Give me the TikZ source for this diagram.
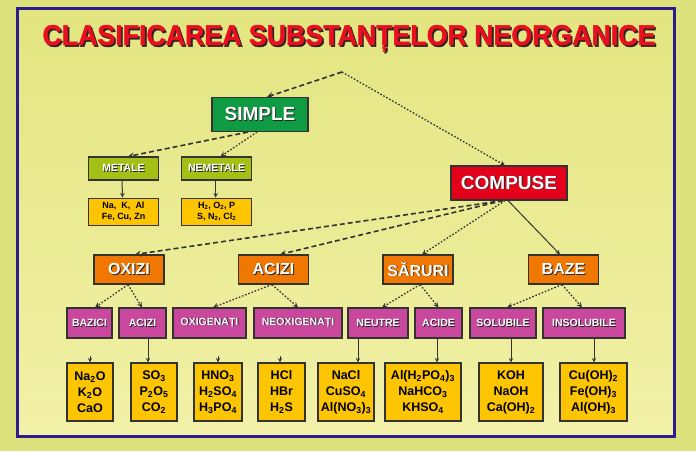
\documentclass[tikz,border=0pt]{standalone}
\usepackage{fontspec}
\usepackage{graphicx}
\usepackage{xcolor}
\setmainfont{Liberation Sans}
\newfontfamily\heavyfont[FakeBold=1.6]{Liberation Sans Bold}
\usetikzlibrary{positioning}

\definecolor{bgouter}{HTML}{DEE27C}
\definecolor{bgtop}{HTML}{E3E580}
\definecolor{bgbottom}{HTML}{F2F1A8}
\definecolor{framecol}{HTML}{2E1C8E}
\definecolor{titlered}{HTML}{E8101E}
\definecolor{titleshade}{HTML}{2E2222}
\definecolor{simplegreen}{HTML}{0E9B44}
\definecolor{olivegreen}{HTML}{A5C014}
\definecolor{exyellow}{HTML}{FCC500}
\definecolor{compred}{HTML}{E2001A}
\definecolor{classorange}{HTML}{F07800}
\definecolor{submagenta}{HTML}{C9489E}
\definecolor{linegray}{HTML}{333333}

\newcommand{\shtxt}[1]{\makebox[0pt][l]{\hspace{0.9pt}\raisebox{-0.9pt}{\textcolor{black!85}{#1}}}#1}
\newcommand{\titletxt}[1]{\makebox[0pt][l]{\hspace{0.6pt}\raisebox{-0.6pt}{\textcolor{titleshade}{#1}}}\textcolor{titlered}{#1}}

\tikzset{
  box/.style={draw=black!80, line width=1.1pt, inner sep=0pt, align=center},
  simple_box/.style={box, fill=simplegreen, text=white, minimum width=96pt, minimum height=34pt, font=\fontsize{19}{19}\selectfont\bfseries},
  compuse_box/.style={box, fill=compred, text=white, minimum width=116pt, minimum height=34pt, font=\fontsize{19}{19}\selectfont\bfseries},
  elem_box/.style={box, fill=olivegreen, text=white, minimum width=70pt, minimum height=23pt, font=\fontsize{10.5}{10.5}\selectfont\bfseries},
  elemex_box/.style={box, fill=exyellow, minimum width=70pt, minimum height=27pt, font=\fontsize{9}{10.5}\selectfont\bfseries},
  class_box/.style={box, fill=classorange, text=white, minimum width=70pt, minimum height=29pt, font=\fontsize{16}{16}\selectfont\bfseries},
  sub_box/.style={box, fill=submagenta, text=white, minimum height=30pt, font=\fontsize{10.5}{10.5}\selectfont\bfseries},
  ex_box/.style={box, fill=exyellow, minimum height=58pt, font=\fontsize{12.5}{16}\selectfont\bfseries},
  dash_line/.style={draw=linegray, line width=1.6pt, dash pattern=on 5pt off 3pt, ->, >=stealth},
  dot_line/.style={draw=linegray, line width=1.3pt, dash pattern=on 1.6pt off 1.8pt, ->, >=stealth},
  solid_line/.style={draw=linegray, line width=1pt, ->, >=stealth}
}

\begin{document}
\begin{tikzpicture}[x=1pt, y=-1pt]
            \useasboundingbox (0,0) rectangle (696,451);
            \fill[bgouter] (0,0) rectangle (696,451);
            \shade[top color=bgtop, bottom color=bgbottom] (17.5,8.5) rectangle (674,436);
            \draw[framecol, line width=3pt] (17.5,8.5) rectangle (674,436);

            % Title
            \node[inner sep=0pt, anchor=base, font=\fontsize{10}{10}\heavyfont] (title) at (349,45)
                {\resizebox{613pt}{20pt}{\titletxt{CLASIFICAREA SUBSTANȚELOR NEORGANICE}}};

            % Nodes
            \coordinate (apex) at (342,72);
            \node[simple_box] (simple) at (260,114.5) {\shtxt{SIMPLE}};
            \node[compuse_box] (compuse) at (509,183) {\shtxt{COMPUSE}};
            \node[elem_box] (metale) at (123.5,168.5) {\shtxt{METALE}};
            \node[elem_box, right=22pt of metale] (nemetale) {\shtxt{NEMETALE}};
            \node[elemex_box, below=17pt of metale] (ex_metale) {Na,\ \ K,\ \ Al\\Fe,\ Cu,\ Zn};
            \node[elemex_box, below=17pt of nemetale] (ex_nemetale) {H\textsubscript{2}, O\textsubscript{2}, P\\S, N\textsubscript{2}, Cl\textsubscript{2}};

            \node[class_box] (oxizi) at (129,269.5) {\shtxt{OXIZI}};
            \node[class_box] (acizi) at (273.5,269.5) {\shtxt{ACIZI}};
            \node[class_box] (saruri) at (418,269.5) {\shtxt{SĂRURI}};
            \node[class_box] (baze) at (563.5,269.5) {\shtxt{BAZE}};

            \node[sub_box, minimum width=45pt] (bazici) at (89.5,323) {\shtxt{BAZICI}};
            \node[sub_box, minimum width=47pt] (acizi_ox) at (142.5,323) {\shtxt{ACIZI}};
            \node[sub_box, minimum width=73pt] (oxigenati) at (209.5,323) {\shtxt{OXIGENAȚI}};
            \node[sub_box, minimum width=88pt] (neoxigenati) at (298,323) {\shtxt{NEOXIGENAȚI}};
            \node[sub_box, minimum width=60pt] (neutre) at (378,323) {\shtxt{NEUTRE}};
            \node[sub_box, minimum width=47pt] (acide) at (438.5,323) {\shtxt{ACIDE}};
            \node[sub_box, minimum width=66pt] (solubile) at (503,323) {\shtxt{SOLUBILE}};
            \node[sub_box, minimum width=82pt] (insolubile) at (584,323) {\shtxt{INSOLUBILE}};

            \node[ex_box, minimum width=46pt] (ex_bazici) at (90,392) {Na\textsubscript{2}O\\K\textsubscript{2}O\\CaO};
            \node[ex_box, minimum width=46pt] (ex_acizi) at (154,392) {SO\textsubscript{3}\\P\textsubscript{2}O\textsubscript{5}\\CO\textsubscript{2}};
            \node[ex_box, minimum width=48pt] (ex_oxigenati) at (218,392) {HNO\textsubscript{3}\\H\textsubscript{2}SO\textsubscript{4}\\H\textsubscript{3}PO\textsubscript{4}};
            \node[ex_box, minimum width=47pt] (ex_neoxigenati) at (281.5,392) {HCl\\HBr\\H\textsubscript{2}S};
            \node[ex_box, minimum width=56pt] (ex_neutre) at (346,392) {NaCl\\CuSO\textsubscript{4}\\Al(NO\textsubscript{3})\textsubscript{3}};
            \node[ex_box, minimum width=76pt] (ex_acide) at (423,392) {Al(H\textsubscript{2}PO\textsubscript{4})\textsubscript{3}\\NaHCO\textsubscript{3}\\KHSO\textsubscript{4}};
            \node[ex_box, minimum width=64pt] (ex_solubile) at (511,392) {KOH\\NaOH\\Ca(OH)\textsubscript{2}};
            \node[ex_box, minimum width=67pt] (ex_insolubile) at (593.5,392) {Cu(OH)\textsubscript{2}\\Fe(OH)\textsubscript{3}\\Al(OH)\textsubscript{3}};

            \coordinate (stub_bazici) at ([yshift=6pt]ex_bazici.north);
            \coordinate (stub_oxigenati) at ([yshift=6pt]ex_oxigenati.north);
            \coordinate (stub_neoxigenati) at ([xshift=-1.5pt, yshift=6pt]ex_neoxigenati.north);

            % Arrows
            \draw[dash_line] (apex) -- ([xshift=7pt]simple.north);
            \draw[dot_line] (apex) -- ([xshift=-4pt]compuse.north);
            \draw[dash_line] ([xshift=-12pt]simple.south) -- ([xshift=4.5pt]metale.north);
            \draw[dot_line] ([xshift=-3pt]simple.south) -- ([xshift=4pt]nemetale.north);
            \draw[solid_line] ([xshift=-1.5pt]metale.south) -- ([xshift=-1pt]ex_metale.north);
            \draw[solid_line] ([xshift=-1pt]nemetale.south) -- ([xshift=-1pt]ex_nemetale.north);

            \draw[dash_line] ([xshift=-6pt]compuse.south) -- ([xshift=6pt]oxizi.north);
            \draw[dash_line] ([xshift=-6pt]compuse.south) -- ([xshift=6.5pt]acizi.north);
            \draw[dot_line] ([xshift=-4pt]compuse.south) -- ([xshift=4pt]saruri.north);
            \draw[solid_line] ([xshift=-1pt]compuse.south) -- ([xshift=-3.5pt]baze.north);

            \draw[dot_line] ([xshift=-1pt]oxizi.south) -- ([xshift=5.5pt]bazici.north);
            \draw[dot_line] ([xshift=-1pt]oxizi.south) -- ([xshift=-0.5pt]acizi_ox.north);
            \draw[dot_line] ([xshift=-1.5pt]acizi.south) -- ([xshift=3.5pt]oxigenati.north);
            \draw[dot_line] ([xshift=-1.5pt]acizi.south) -- (neoxigenati.north);
            \draw[dot_line] ([xshift=2pt]saruri.south) -- ([xshift=4pt]neutre.north);
            \draw[dot_line] ([xshift=2pt]saruri.south) -- (acide.north);
            \draw[dot_line] ([xshift=-1.5pt]baze.south) -- ([xshift=4pt]solubile.north);
            \draw[dot_line] ([xshift=-1.5pt]baze.south) -- ([xshift=-2pt]insolubile.north);

            \draw[solid_line] ([xshift=5.5pt]acizi_ox.south) -- ([xshift=5.5pt]acizi_ox.south |- ex_acizi.north);
            \draw[solid_line] ([xshift=-20pt]neutre.south) -- ([xshift=-20pt]neutre.south |- ex_neutre.north);
            \draw[solid_line] ([xshift=-1.5pt]acide.south) -- ([xshift=-1.5pt]acide.south |- ex_acide.north);
            \draw[solid_line] ([xshift=8pt]solubile.south) -- ([xshift=8pt]solubile.south |- ex_solubile.north);
            \draw[solid_line] ([xshift=10pt]insolubile.south) -- ([xshift=10pt]insolubile.south |- ex_insolubile.north);
            \draw[solid_line] (stub_bazici) -- (ex_bazici.north);
            \draw[solid_line] (stub_oxigenati) -- (ex_oxigenati.north);
            \draw[solid_line] (stub_neoxigenati) -- ([xshift=-1.5pt]ex_neoxigenati.north);
        \end{tikzpicture}
\end{document}
